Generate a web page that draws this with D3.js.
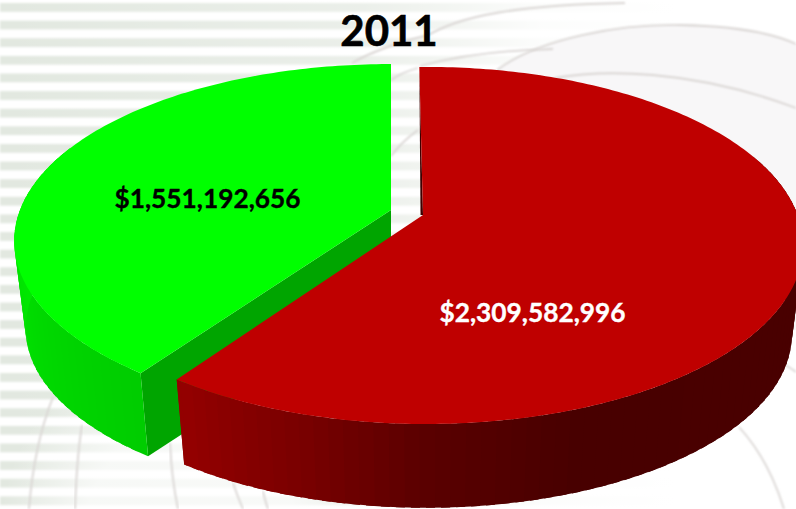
<!DOCTYPE html>
<html><head><meta charset="utf-8">
<script src="https://cdn.jsdelivr.net/npm/d3@7"></script>
<style>html,body{margin:0;padding:0;background:#fff;overflow:hidden}svg{display:block}text{font-family:Lato,"Open Sans",sans-serif;font-weight:700;paint-order:stroke}</style>
</head><body><svg id="c" width="796" height="509"></svg>
<script>
const title = "2011";
const categories = ["Red", "Green"];
const values = [2309582996, 1551192656];
const labels = ["$2,309,582,996", "$1,551,192,656"];
const topColors = ["#bf0000", "#00ff00"];

const W = 796, H = 509;
const svg = d3.select("#c");
const defs = svg.append("defs");
const fade = defs.append("linearGradient").attr("id", "fade");
fade.append("stop").attr("offset", "0").attr("stop-color", "#fff").attr("stop-opacity", 0);
fade.append("stop").attr("offset", ".45").attr("stop-color", "#fff").attr("stop-opacity", .3);
fade.append("stop").attr("offset", ".68").attr("stop-color", "#fff").attr("stop-opacity", .9);
fade.append("stop").attr("offset", ".85").attr("stop-color", "#fff").attr("stop-opacity", 1);
const low = defs.append("radialGradient").attr("id", "low").attr("gradientUnits", "userSpaceOnUse")
  .attr("cx", 190).attr("cy", 530).attr("r", 190);
low.append("stop").attr("offset", ".55").attr("stop-color", "#fff").attr("stop-opacity", .7);
low.append("stop").attr("offset", "1").attr("stop-color", "#fff").attr("stop-opacity", 0);
const blur = defs.append("filter").attr("id", "soft").attr("x", "-5%").attr("y", "-20%").attr("width", "110%").attr("height", "140%");
blur.append("feGaussianBlur").attr("stdDeviation", .8);

// background
svg.append("rect").attr("width", W).attr("height", H).attr("fill", "#fff");
const bg = svg.append("g");
bg.selectAll("rect.s").data(d3.range(0, 29)).join("rect").attr("class", "s")
  .attr("x", 0).attr("width", W).attr("y", i => 3 + i * 17.62).attr("height", 8.8)
  .attr("fill", "#e2e8e0").attr("filter", "url(#soft)");
bg.append("rect").attr("width", W).attr("height", H).attr("fill", "url(#fade)");
bg.append("rect").attr("width", W).attr("height", H).attr("fill", "url(#low)");
bg.append("path").attr("d", "M497 70 C540 38 620 24 680 25 C730 26 770 32 796 44 L796 330 L500 330 Z").attr("fill", "#f8f7f8");
const arcs = [
  "M425 37 C460 15 520 5 625 3",
  "M352 63 C375 50 400 42 425 36",
  "M420 66 C465 54 510 50 553 49",
  "M391 80 C400 74 410 70 418 68",
  "M391 156 C398 147 408 137 418 130",
  "M497 70 C540 38 620 24 680 25 C730 26 770 32 796 44",
  "M555 78 C600 70 690 68 796 108",
  "M53 397 C40 430 32 470 29 509",
  "M82 425 C78 450 76 480 75 509",
  "M170 443 C171 465 174 490 178 509",
  "M233 483 C236 492 239 500 243 509",
  "M263 491 C264 497 266 503 268 509",
  "M739 427 C760 450 775 480 784 509",
  "M784 365 C788 366 792 369 796 372"
];
bg.selectAll("path.a").data(arcs).join("path").attr("class", "a").attr("d", d => d)
  .attr("fill", "none").attr("stroke", "#d9d5d3").attr("stroke-width", 1.8).attr("filter", "url(#soft)");

// projection of the tilted disc
const deg = Math.PI / 180;
const Rx = [372, 371], RY = [173.7, 171.5], K = [0.165, 0.175], SHRINK = 0.97;
const depth = [90, 88];
const discs = [[426, 216], [391, 210]];
const apexes = [[423, 215], [391, 210]];
const trimStart = [-1.2 * deg, 0], trimEnd = [0.1 * deg, 0];
function proj(a, i, lower) {
  const u = Math.sin(a), v = -Math.cos(a), w = 1 - K[i] * v;
  const s = lower ? SHRINK : 1, c = discs[i];
  return [c[0] + s * Rx[i] * u / w, c[1] + (lower ? depth[i] : 0) + s * RY[i] * v / w];
}
const pie = d3.pie().sort(null).value(d => d);
const slices = pie(values);
const line = d3.line();
const sideColor = [
  d3.scaleLinear().domain([90, 160, 180, 196, 214].map(d => d * deg))
    .range(["#4a0000", "#480000", "#5a0000", "#780000", "#930000"]).clamp(true),
  d3.scaleLinear().domain([215, 270].map(d => d * deg)).range(["#00cc00", "#00e800"]).clamp(true)
];
const wallColor = ["#3c0000", "#00a500"];
[1, 0].forEach(i => {
  const start = slices[i].startAngle + trimStart[i], end = slices[i].endAngle + trimEnd[i];
  const a0 = apexes[i], g = svg.append("g").attr("class", "slice-" + categories[i]);
  const step = 2 * deg;
  const as = d3.range(start, end, step).concat([end]);
  if (i === 1) {
    const q = proj(start, i), r = proj(start, i, true);
    g.append("path").attr("fill", wallColor[i]).attr("d", line([a0, q, r, [a0[0], a0[1] + depth[i]]]) + "Z");
  } else {
    const t = proj(start, i);
    g.append("path").attr("fill", wallColor[i]).attr("d", line([t, [t[0] + 1.2, a0[1]], a0]) + "Z");
  }
  // outer rim strips, overlapping so that no seams show
  const pairs = d3.pairs(as).filter(([a, b]) => Math.cos((a + b) / 2) < 0.35);
  g.selectAll("path.rim").data(pairs).join("path").attr("class", "rim")
    .attr("fill", d => sideColor[i]((d[0] + d[1]) / 2))
    .attr("d", d => {
      const e = Math.min(d[1] + step * 0.6, end);
      return line([proj(d[0], i), proj(e, i), proj(e, i, true), proj(d[0], i, true)]) + "Z";
    });
  const fine = d3.range(start, end, step / 2).concat([end]).map(a => proj(a, i));
  g.append("path").attr("fill", topColors[i]).attr("d", line([a0].concat(fine)) + "Z");
});

// text
svg.append("text").attr("x", 389).attr("y", 46).attr("text-anchor", "middle").attr("font-size", 42)
  .attr("fill", "#000").attr("stroke", "#000").attr("stroke-width", .6).text(title);
const labelPos = [[532.5, 321.5], [207.5, 208]];
const labelFill = ["#fff", "#000"];
svg.selectAll("text.v").data(labels).join("text").attr("class", "v")
  .attr("x", (d, i) => labelPos[i][0]).attr("y", (d, i) => labelPos[i][1])
  .attr("text-anchor", "middle").attr("font-size", 26.3)
  .attr("fill", (d, i) => labelFill[i]).attr("stroke", (d, i) => labelFill[i]).attr("stroke-width", .35).text(d => d);
</script></body></html>
